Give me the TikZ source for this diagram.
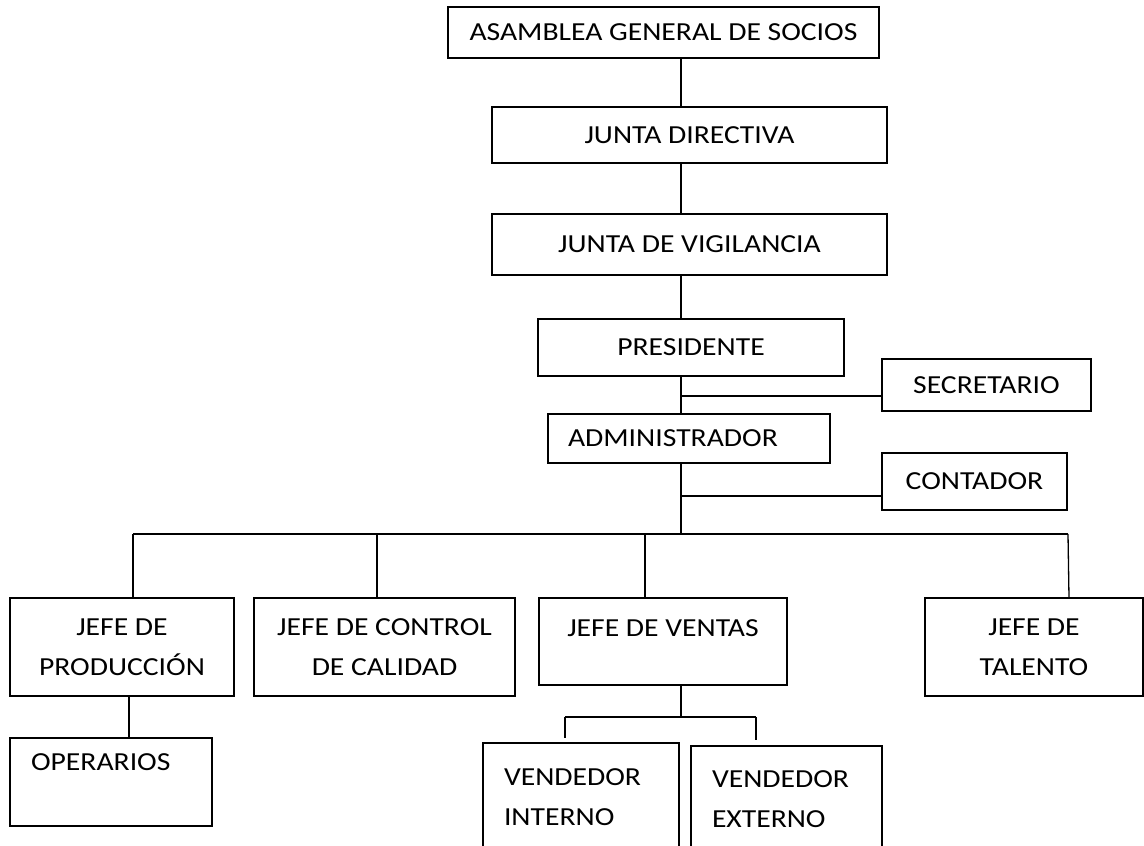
\documentclass[tikz,border=0pt]{standalone}
\usepackage{fontspec}
\setmainfont{Carlito}[FakeStretch=1.14]

\tikzset{
    puesto/.style={draw, rectangle, line width=1.2pt, inner sep=0pt, align=center, font=\fontsize{26}{40}\selectfont},
    linea/.style={line width=1.3pt}
}

\begin{document}
\begin{tikzpicture}[x=1pt, y=-1pt]
            \useasboundingbox (0,0) rectangle (1144,846);

            \node[puesto, minimum width=431pt, minimum height=51pt] (asamblea) at (663.5,32.5) {ASAMBLEA GENERAL DE SOCIOS};
            \node[puesto, minimum width=395pt, minimum height=56pt] (directiva) at (689.5,135) {JUNTA DIRECTIVA};
            \node[puesto, minimum width=395pt, minimum height=61pt] (vigilancia) at (689.5,244.5) {JUNTA DE VIGILANCIA};
            \node[puesto, minimum width=306pt, minimum height=57pt] (presidente) at (691,347.5) {PRESIDENTE};
            \node[puesto, minimum width=209pt, minimum height=52pt] (secretario) at (986.5,385) {SECRETARIO};
            \node[puesto, minimum height=49pt, inner xsep=20pt, text width=242pt, align=left] (administrador) at (689,438.5) {ADMINISTRADOR};
            \node[puesto, minimum width=185pt, minimum height=57pt] (contador) at (974.5,481.5) {CONTADOR};

            \node[puesto, minimum width=224pt, minimum height=98pt] (produccion) at (122,647) {JEFE DE\\PRODUCCIÓN};
            \node[puesto, minimum width=261pt, minimum height=98pt] (calidad) at (384.5,647) {JEFE DE CONTROL\\DE CALIDAD};
            \node[puesto, minimum width=248pt, minimum height=87pt] (ventas) at (663,641.5) {JEFE DE VENTAS\\[-14pt]\phantom{X}};
            \node[puesto, minimum width=218pt, minimum height=98pt] (talento) at (1034,647) {JEFE DE\\TALENTO};

            \node[puesto, minimum height=88pt, inner xsep=21pt, text width=160pt, align=left] (operarios) at (111,782) {OPERARIOS\\ \phantom{X}};
            \node[puesto, minimum height=109pt, inner xsep=21pt, text width=154pt, align=left] (interno) at (581,797.5) {VENDEDOR\\INTERNO};
            \node[puesto, minimum height=106pt, inner xsep=21pt, text width=149pt, align=left] (externo) at (786.5,799) {VENDEDOR\\EXTERNO};

            % tronco central
            \coordinate (eje) at (681,0);
            \draw[linea] (asamblea.south -| eje) -- (directiva.north -| eje);
            \draw[linea] (directiva.south -| eje) -- (vigilancia.north -| eje);
            \draw[linea] (vigilancia.south -| eje) -- (presidente.north -| eje);
            \draw[linea] (presidente.south -| eje) -- (administrador.north -| eje);

            \coordinate (rsec) at (681,396);
            \draw[linea] (rsec) -- (rsec -| secretario.west);
            \coordinate (rcon) at (681,496);
            \draw[linea] (rcon) -- (rcon -| contador.west);

            % jefes
            \coordinate (busizq) at (133,534);
            \coordinate (busder) at (1068,534);
            \coordinate (bcal) at (377,534);
            \coordinate (bven) at (645,534);
            \draw[linea] (administrador.south -| eje) -- (eje |- busizq);
            \draw[linea] (busizq) -- (busder);
            \draw[linea] (busizq) -- (busizq |- produccion.north);
            \draw[linea] (bcal) -- (bcal |- calidad.north);
            \draw[linea] (bven) -- (bven |- ventas.north);
            \draw[linea] (busder) -- ([xshift=1pt]busder |- talento.north);

            \coordinate (bope) at (129,0);
            \draw[linea] (produccion.south -| bope) -- (operarios.north -| bope);

            % vendedores
            \coordinate (vizq) at (565,717);
            \coordinate (vder) at (756,717);
            \draw[linea] (ventas.south -| eje) -- (eje |- vizq);
            \draw[linea] (vizq) -- (vder);
            \draw[linea] (vizq) -- ([yshift=4pt]vizq |- interno.north);
            \draw[linea] (vder) -- ([yshift=5pt]vder |- externo.north);
        \end{tikzpicture}
\end{document}
